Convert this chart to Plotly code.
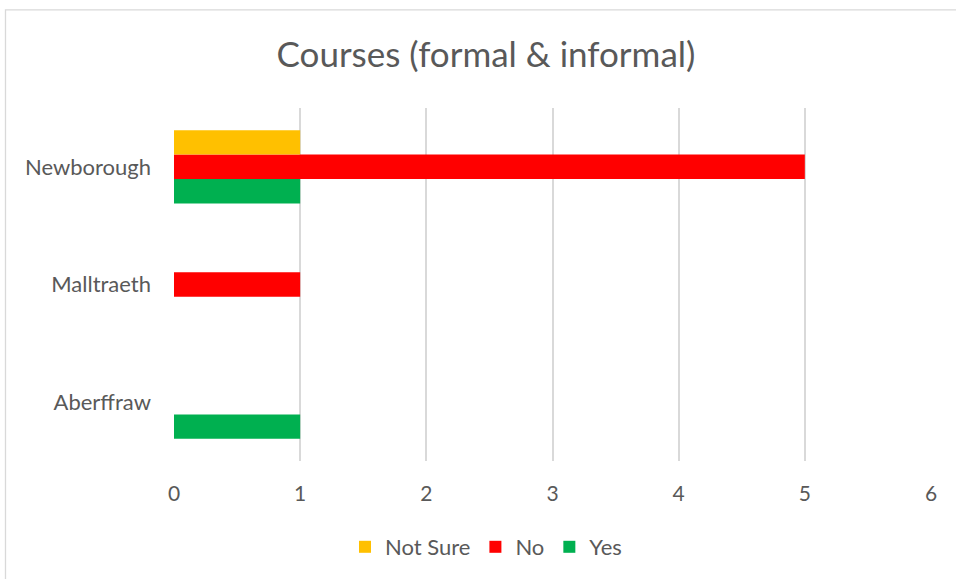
import plotly.graph_objects as go

# data
categories = ["Aberffraw", "Malltraeth", "Newborough"]
yes_vals = [1, 0, 1]
no_vals = [0, 1, 5]
not_sure_vals = [0, 0, 1]
x_ticks = [0, 1, 2, 3, 4, 5, 6]

TEXT = "#595959"
GRID = "#D9D9D9"
FONT = "Lato, 'Open Sans', sans-serif"

W, H = 956, 579
L, R, T, B = 174, 25, 108, 117
pw, ph = W - L - R, H - T - B


def px_x(x):
    return (x - L) / pw


def px_y(y):
    return (H - B - y) / ph


fig = go.Figure()
# first trace sits at the bottom of each group in a horizontal bar chart
fig.add_bar(y=categories, x=yes_vals, name="Yes", orientation="h",
            marker=dict(color="#00B050", line=dict(width=0)))
fig.add_bar(y=categories, x=no_vals, name="No", orientation="h",
            marker=dict(color="#FF0000", line=dict(width=0)))
fig.add_bar(y=categories, x=not_sure_vals, name="Not Sure", orientation="h",
            marker=dict(color="#FFC000", line=dict(width=0)))

# outer chart border
fig.add_shape(type="rect", xref="paper", yref="paper",
              x0=px_x(5.5), x1=px_x(W + 5), y0=px_y(H + 5), y1=px_y(9.5),
              line=dict(color=GRID, width=1.3), fillcolor="rgba(0,0,0,0)",
              layer="below")

fig.update_layout(
    width=W, height=H,
    margin=dict(l=L, r=R, t=T, b=B),
    barmode="group", bargap=0.377, bargroupgap=0,
    plot_bgcolor="white", paper_bgcolor="white",
    font=dict(family=FONT, color=TEXT, size=22),
    title=dict(text="Courses (formal & informal)", x=486 / W, xanchor="center",
               y=1 - 55 / H, yanchor="middle",
               font=dict(size=35, color=TEXT, family=FONT)),
    xaxis=dict(range=[0, 6], tickvals=x_ticks, showgrid=True, gridcolor=GRID,
               gridwidth=1.5, zeroline=False, showline=False, ticks="",
               ticklabelstandoff=18, tickfont=dict(size=21, color=TEXT)),
    yaxis=dict(showgrid=False, zeroline=False, showline=False, ticks="",
               ticklabelstandoff=22, tickfont=dict(size=22, color=TEXT)),
    legend=dict(orientation="h", traceorder="reversed", x=px_x(486),
                xanchor="center", y=px_y(547), yanchor="middle",
                font=dict(size=22, color=TEXT), itemwidth=30,
                bgcolor="rgba(0,0,0,0)"),
    showlegend=True,
)

# drop the page's default 8px body margin so the chart sits at 0,0
fig.write_html("out.html", config={"displayModeBar": False},
               post_script="document.body.style.margin='0';")
